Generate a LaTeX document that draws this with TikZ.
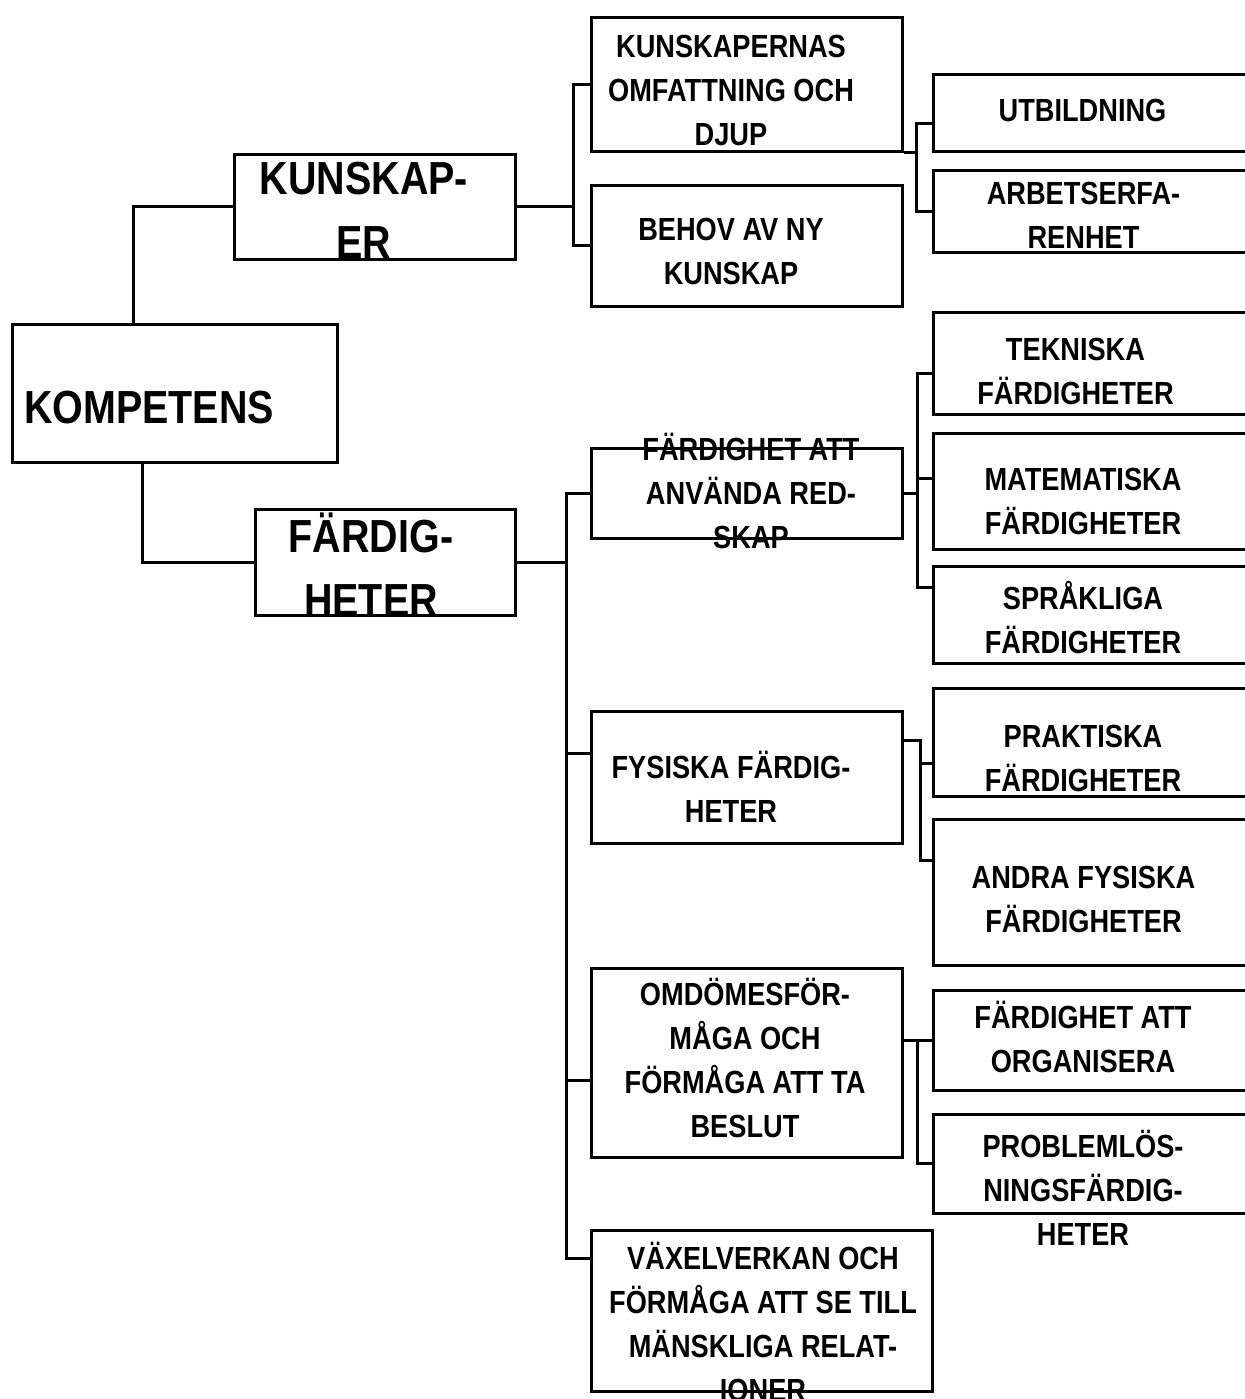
\documentclass[tikz,border=0pt]{standalone}
\usepackage{fontspec}
\setmainfont{Liberation Sans}[FakeStretch=0.85]
\usetikzlibrary{%
	calc,%
	fit,%
}
\tikzset{
	box/.style={%
			draw,%
			rectangle,%
			line width=1.5pt,%
			inner sep=0pt},%
	bigtext/.style={%
			font={\bfseries\fontsize{23.2}{32}\selectfont},%
			align=center,%
			inner sep=0pt},%
	smalltext/.style={%
			font={\bfseries\fontsize{16}{22}\selectfont},%
			align=center,%
			inner sep=0pt},%
	link/.style={line width=1.5pt},%
}

\begin{document}
\begin{tikzpicture}[x=0.5pt, y=-0.5pt]%
	\useasboundingbox (0,0) rectangle (1244,1399);

	\node[bigtext] (kompetenstext) at (149,408) {KOMPETENS};
	\node[bigtext] (kunskapertext) at (364,210) {KUNSKAP-\\ER};
	\node[bigtext] (faerdighetertext) at (371,565) {FÄRDIG-\\HETER};

	\node[smalltext] (omfattningtext) at (731,90) {KUNSKAPERNAS\\OMFATTNING OCH\\DJUP};
	\node[smalltext] (behovtext) at (731,251.5) {BEHOV AV NY\\KUNSKAP};
	\node[smalltext] (utbildningtext) at (1082.5,110) {UTBILDNING};
	\node[smalltext] (arbetetext) at (1083.5,215.5) {ARBETSERFA-\\RENHET};
	\node[smalltext] (redskaptext) at (751,491) {FÄRDIGHET ATT\\ANVÄNDA RED-\\SKAP};
	\node[smalltext] (tekniskatext) at (1075.5,371.5) {TEKNISKA\\FÄRDIGHETER};
	\node[smalltext] (matematiskatext) at (1083,501) {MATEMATISKA\\FÄRDIGHETER};
	\node[smalltext] (spraakligatext) at (1083,618) {SPRÅKLIGA\\FÄRDIGHETER};
	\node[smalltext] (fysiskatext) at (731,787) {FYSISKA FÄRDIG-\\HETER};
	\node[smalltext] (praktiskatext) at (1083,758) {PRAKTISKA\\FÄRDIGHETER};
	\node[smalltext] (andratext) at (1083.5,899.5) {ANDRA FYSISKA\\FÄRDIGHETER};
	\node[smalltext] (omdometext) at (745,1058) {OMDÖMESFÖR-\\MÅGA OCH\\FÖRMÅGA ATT TA\\BESLUT};
	\node[smalltext] (organiseratext) at (1083,1037) {FÄRDIGHET ATT\\ORGANISERA};
	\node[smalltext] (problemtext) at (1083,1188) {PROBLEMLÖS-\\NINGSFÄRDIG-\\HETER};
	\node[smalltext] (vaxeltext) at (763,1322) {VÄXELVERKAN OCH\\FÖRMÅGA ATT SE TILL\\MÄNSKLIGA RELAT-\\IONER};

	% boxes
	\node[box, fit={(12,324) (337,462)}] (kompetens) {};
	\node[box, fit={(234,154) (515,259)}] (kunskaper) {};
	\node[box, fit={(255,509) (515,615)}] (faerdigheter) {};
	\node[box, fit={(591.5,17) (902,151)}] (omfattning) {};
	\node[box, fit={(591.5,185) (902,306)}] (behov) {};
	\node[box, fit={(933,74) (1250,151)}] (utbildning) {};
	\node[box, fit={(933,170) (1250,252)}] (arbete) {};
	\node[box, fit={(591.5,448) (902,538)}] (redskap) {};
	\node[box, fit={(933,312) (1250,414)}] (tekniska) {};
	\node[box, fit={(933,433) (1250,549)}] (matematiska) {};
	\node[box, fit={(933,566) (1250,663)}] (spraakliga) {};
	\node[box, fit={(591.5,711) (902,843)}] (fysiska) {};
	\node[box, fit={(933,688) (1250,796)}] (praktiska) {};
	\node[box, fit={(933,819) (1250,965)}] (andra) {};
	\node[box, fit={(591.5,968) (902,1157.5)}] (omdome) {};
	\node[box, fit={(933,990) (1250,1090)}] (organisera) {};
	\node[box, fit={(933,1114) (1250,1213.5)}] (problem) {};
	\node[box, fit={(591.5,1230) (932.5,1391)}] (vaxel) {};

	\coordinate (kspine) at (133,0);
	\coordinate (fspine) at (142,0);
	\coordinate (kbus) at (573.5,0);
	\coordinate (ubus) at (916,0);
	\coordinate (fbus) at (566,0);
	\coordinate (rbus) at (917,0);
	\coordinate (pbus) at (920,0);
	\coordinate (obus) at (917.5,0);

	\coordinate (utbtick) at ([yshift=-5.25pt]utbildning.west);
	\coordinate (fystick) at ([yshift=12pt]fysiska.west);
	\coordinate (omdtick) at ([yshift=-9pt]omdome.west);
	\coordinate (vaxtick) at ([yshift=26pt]vaxel.west);
	\coordinate (tektick) at ([yshift=-5pt]tekniska.west);
	\coordinate (mattick) at ([yshift=6.5pt]matematiska.west);
	\coordinate (spratick) at ([yshift=13.75pt]spraakliga.west);
	\coordinate (fysstem) at ([yshift=18.5pt]fysiska.east);
	\coordinate (prtick) at ([yshift=-10.5pt]praktiska.west);
	\coordinate (antick) at ([yshift=16pt]andra.west);

	\draw[link] (kompetens.north -| kspine) |- (kunskaper.west);
	\draw[link] (kompetens.south -| fspine) |- (faerdigheter.west);

	\draw[link] (kunskaper.east) -- (kunskaper.east -| kbus);
	\draw[link] (omfattning.west) -| (behov.west -| kbus) -- (behov.west);
	\draw[link] (omfattning.south east) -- (omfattning.south east -| ubus);
	\draw[link] (utbtick) -| (arbete.west -| ubus) -- (arbete.west);

	\draw[link] (faerdigheter.east) -- (faerdigheter.east -| fbus);
	\draw[link] (redskap.west) -| (vaxtick -| fbus) -- (vaxtick);
	\draw[link] (fystick -| fbus) -- (fystick);
	\draw[link] (omdtick -| fbus) -- (omdtick);

	\draw[link] (redskap.east) -- (redskap.east -| rbus);
	\draw[link] (tektick) -| (spratick -| rbus) -- (spratick);
	\draw[link] (mattick -| rbus) -- (mattick);

	\draw[link] (fysstem) -| (antick -| pbus) -- (antick);
	\draw[link] (prtick -| pbus) -- (prtick);

	\draw[link] (organisera.west -| omdome.east) -- (organisera.west);
	\draw[link] (organisera.west -| obus) |- (problem.west);
\end{tikzpicture}
\end{document}
